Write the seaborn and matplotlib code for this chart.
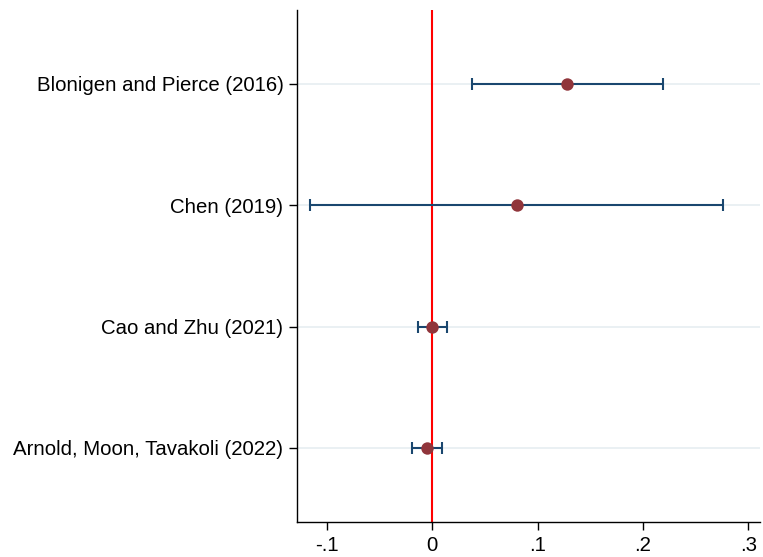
import matplotlib
matplotlib.use("Agg")
import matplotlib.pyplot as plt
import seaborn as sns
import pandas as pd
import numpy as np

studies = [
    "Blonigen and Pierce (2016)",
    "Chen (2019)",
    "Cao and Zhu (2021)",
    "Arnold, Moon, Tavakoli (2022)",
]
estimates = [0.128, 0.080, 0.000, -0.005]
ci_low = [0.038, -0.116, -0.014, -0.019]
ci_high = [0.219, 0.276, 0.014, 0.0095]
xticks = [-0.1, 0.0, 0.1, 0.2, 0.3]
xtick_labels = ["-.1", "0", ".1", ".2", ".3"]

sns.set_style("white")
plt.rcParams["font.family"] = ["Liberation Sans", "DejaVu Sans"]
plt.rcParams["text.color"] = "black"
plt.rcParams["xtick.color"] = "black"
plt.rcParams["ytick.color"] = "black"

df = pd.DataFrame({
    "study": studies,
    "est": estimates,
    "lo": ci_low,
    "hi": ci_high,
})
df["pos"] = np.arange(len(df))

fig = plt.figure(figsize=(7.63, 5.57), dpi=100)
ax = fig.add_axes([297.3 / 763, 35 / 557, (760 - 297.3) / 763, (522.3 - 10) / 557])

# light row gridlines
for p in df["pos"]:
    ax.axhline(p, color="#e8eff2", lw=1.3, zorder=0)

# reference line at zero
ax.axvline(0, color="#ff0000", lw=1.5, zorder=1)

# confidence intervals
ax.errorbar(
    df["est"], df["pos"],
    xerr=[df["est"] - df["lo"], df["hi"] - df["est"]],
    fmt="none", ecolor="#1a476f", elinewidth=1.5, capsize=4.5, capthick=1.5,
    zorder=2,
)

# point estimates
sns.scatterplot(
    data=df, x="est", y="pos", ax=ax, s=80, color="#90353b",
    edgecolor="#90353b", linewidth=0, zorder=3, legend=False,
)

ax.set_ylim(len(df) - 1 + 0.61, -0.61)
ax.set_xlim(-0.1282, 0.311)
ax.set_yticks(df["pos"])
ax.set_yticklabels(df["study"], fontsize=14.7, color="black")
ax.set_xticks(xticks)
ax.set_xticklabels(xtick_labels, fontsize=14.7, color="black")
ax.set_xlabel("")
ax.set_ylabel("")

for side in ["top", "right"]:
    ax.spines[side].set_visible(False)
for side in ["left", "bottom"]:
    ax.spines[side].set_color("black")
    ax.spines[side].set_linewidth(1.0)

ax.tick_params(axis="both", which="major", direction="out", length=6,
               width=1.0, color="black", left=True, bottom=True, pad=4)

fig.savefig("out.png", dpi=100, facecolor="white")
